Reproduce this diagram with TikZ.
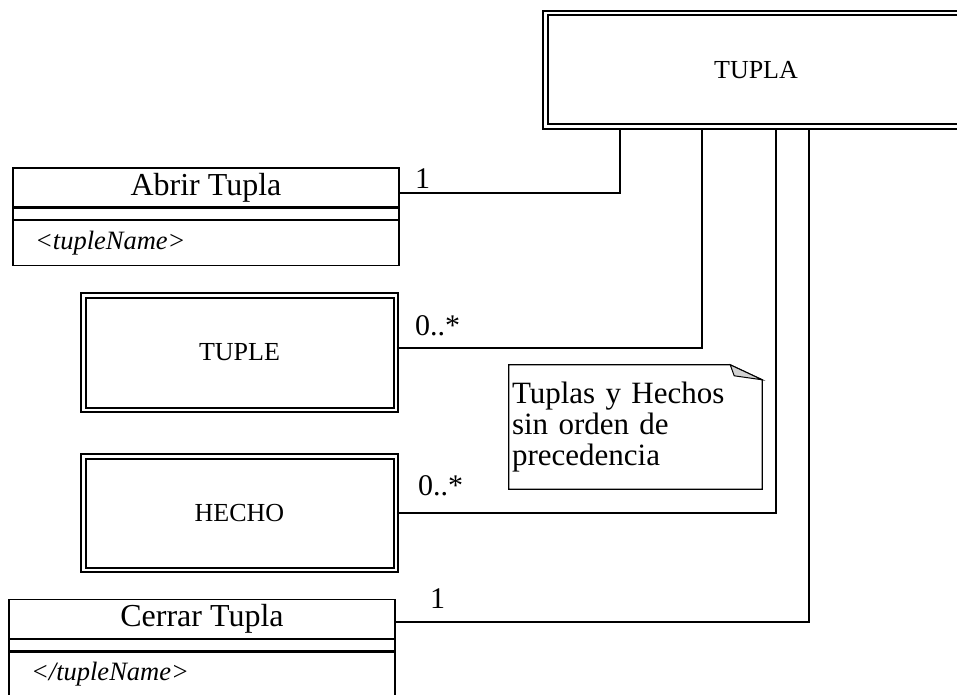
\documentclass[tikz,border=0pt]{standalone}
\usepackage{fontspec}
\setmainfont{Liberation Serif}
\usepackage{tikz}
\usetikzlibrary{positioning}

\begin{document}
\begin{tikzpicture}[x=1pt,y=-1pt,
  entity/.style={draw,line width=2pt,double,double distance=2.5pt,inner sep=0pt,font=\fontsize{26}{30}\selectfont},
  clsname/.style={draw,line width=1.2pt,minimum width=386pt,minimum height=39pt,inner sep=0pt,font=\fontsize{32}{36}\selectfont},
  clsmid/.style={draw,line width=1.2pt,minimum width=386pt,minimum height=11pt,inner sep=0pt},
  clsattr/.style={draw,line width=1.2pt,minimum width=386pt,minimum height=45pt,inner sep=0pt,text width=342pt,align=left,font=\fontsize{26.5}{30}\selectfont\itshape},
  mult/.style={font=\fontsize{30}{34}\selectfont,inner sep=0pt,anchor=base west},
  link/.style={line width=1.5pt}]
  \useasboundingbox (0,0) rectangle (957,695);
  \clip (0,0) rectangle (957,695);
  % main box
  \node[entity,minimum width=421.5pt,minimum height=113.5pt] (tupla) at (756,70) {TUPLA};
  % open / close classes
  \node[clsname] (abrir) at (206,187.5) {Abrir Tupla};
  \node[clsmid,below=0pt of abrir] (abrirmid) {};
  \node[clsattr,below=0pt of abrirmid] (abrirattr) {<tupleName>};
  \node[clsname] (cerrar) at (202,619) {Cerrar Tupla};
  \node[clsmid,below=0pt of cerrar] (cerrarmid) {};
  \node[clsattr,below=0pt of cerrarmid] (cerrarattr) {</tupleName>};
  % nested entities
  \node[entity,minimum width=312.5pt,minimum height=114.5pt] (tuple) at (239.5,352.5) {TUPLE};
  \node[entity,minimum width=312.5pt,minimum height=113.5pt] (hecho) at (239.5,513) {HECHO};
  % note
  \node[minimum width=253pt,minimum height=124pt,text width=247pt,inner sep=3pt,align=left,
        font=\fontsize{31}{31}\selectfont] (note) at (635.5,427) {Tuplas y Hechos\\sin orden de\\precedencia};
  \draw[line width=1.2pt] (note.south west) -- (note.north west) -- ([xshift=-32pt]note.north east)
    -- ([yshift=-15pt]note.north east) -- (note.south east) -- cycle;
  \filldraw[line width=1pt,fill=gray!35] ([xshift=-32pt]note.north east) -- ([yshift=-15pt]note.north east)
    -- ([xshift=-28pt,yshift=-11pt]note.north east) -- cycle;
  % connectors
  \draw[link] ([yshift=-5.5pt]abrir.east) -| ([xshift=-136pt]tupla.south);
  \draw[link] ([yshift=4.5pt]tuple.east) -| ([xshift=-54pt]tupla.south);
  \draw[link] (hecho.east) -| ([xshift=20pt]tupla.south);
  \draw[link] ([yshift=-3pt]cerrar.east) -| ([xshift=53pt]tupla.south);
  \node[mult] (m1) at (415,188) {1};
  \node[mult] (m2) at (415,335) {0..*};
  \node[mult] (m3) at (418,495) {0..*};
  \node[mult] (m4) at (430,608) {1};
\end{tikzpicture}
\end{document}
